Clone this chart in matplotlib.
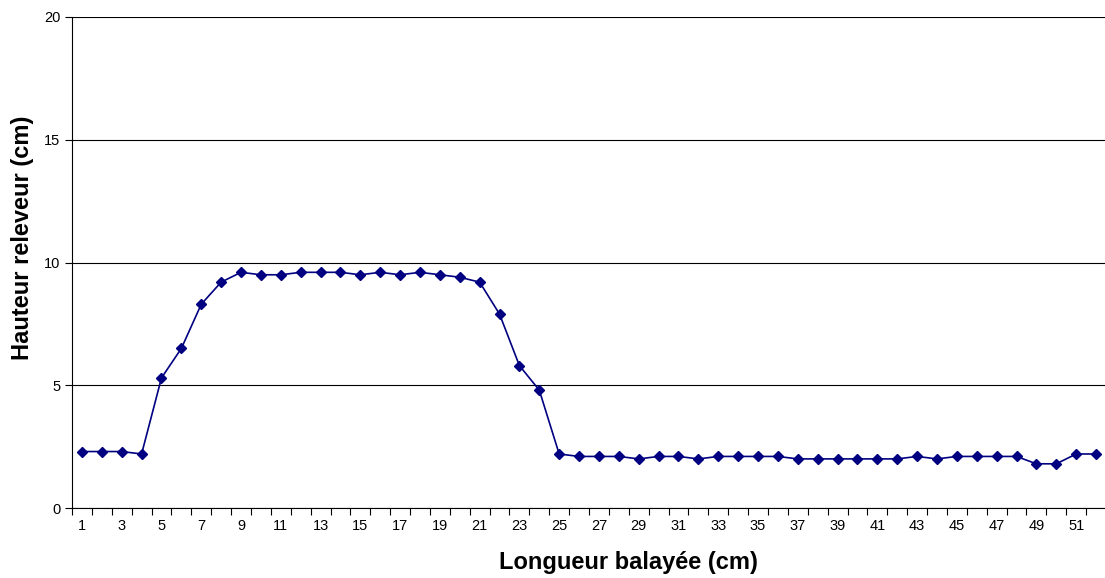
import numpy as np
import matplotlib
matplotlib.use('Agg')
import matplotlib.pyplot as plt
from matplotlib.ticker import FixedLocator

plt.rcParams['font.family'] = ['Liberation Sans', 'DejaVu Sans']

longueur = list(range(1, 53))
hauteur = [2.3, 2.3, 2.3, 2.2, 5.3, 6.5, 8.3, 9.2, 9.6, 9.5,
           9.5, 9.6, 9.6, 9.6, 9.5, 9.6, 9.5, 9.6, 9.5, 9.4,
           9.2, 7.9, 5.8, 4.8, 2.2, 2.1, 2.1, 2.1, 2.0, 2.1,
           2.1, 2.0, 2.1, 2.1, 2.1, 2.1, 2.0, 2.0, 2.0, 2.0,
           2.0, 2.0, 2.1, 2.0, 2.1, 2.1, 2.1, 2.1, 1.8, 1.8,
           2.2, 2.2]
x_labels = [str(v) for v in range(1, 53, 2)]

fig = plt.figure(figsize=(11.05, 5.78), dpi=100)
ax = fig.add_axes([72 / 1105, 70 / 578, 1034 / 1105, 491 / 578])

ax.plot(longueur, hauteur, color='#000080', linewidth=1.2,
        marker='D', markersize=5, markerfacecolor='#000080', markeredgecolor='#000080')

ax.set_xlim(0.5, 52.5)
ax.set_ylim(0, 20)
ax.set_yticks([0, 5, 10, 15, 20])
ax.yaxis.grid(True, color='black', linewidth=0.8)
ax.set_axisbelow(True)

ax.set_xticks(range(1, 53, 2))
ax.set_xticklabels(x_labels, fontsize=10.5)
ax.tick_params(axis='x', which='major', length=0, pad=8)
ax.xaxis.set_minor_locator(FixedLocator(np.arange(0.5, 53, 1)))
ax.tick_params(axis='x', which='minor', length=5, width=0.8, direction='out')
ax.tick_params(axis='y', length=5, width=0.8, direction='out', labelsize=10.5)

for s in ['top', 'right']:
    ax.spines[s].set_visible(False)
ax.spines['left'].set_linewidth(0.8)
ax.spines['bottom'].set_linewidth(0.8)

ax.set_xlabel('Longueur balayée (cm)', fontsize=17, fontweight='bold')
ax.set_ylabel('Hauteur releveur (cm)', fontsize=17, fontweight='bold', labelpad=7)
ax.xaxis.set_label_coords(0.538, -0.088)
ax.yaxis.label.set_y(0.55)

fig.savefig('out.png', dpi=100)
